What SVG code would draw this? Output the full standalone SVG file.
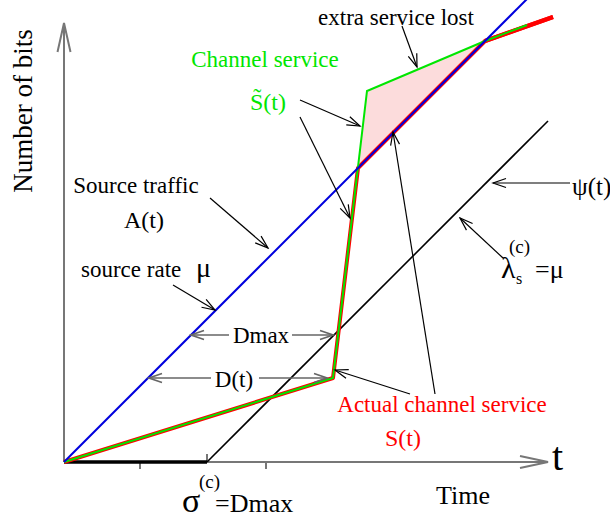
<svg xmlns="http://www.w3.org/2000/svg" width="610" height="522" viewBox="0 0 610 522">
<style>
text{font-family:"Liberation Serif","Times New Roman",serif;fill:#000}
.g{fill:#00e600}
.r{fill:#ff0000}
.ax{stroke:#777;stroke-width:2;fill:none}
.ar{stroke:#000;stroke-width:1.2;fill:none}
.gy{stroke:#666;stroke-width:1.6;fill:none}
</style>
<defs>
<marker id="a" viewBox="-14 -6 16 12" refX="0" refY="0" markerWidth="16" markerHeight="12" orient="auto" markerUnits="userSpaceOnUse"><path d="M-13,-4.5 L0,0 L-13,4.5" fill="none" stroke="#000" stroke-width="1.2"/></marker>
<marker id="gA" viewBox="-14 -6 16 12" refX="0" refY="0" markerWidth="16" markerHeight="12" orient="auto-start-reverse" markerUnits="userSpaceOnUse"><path d="M-13,-4.5 L0,0 L-13,4.5" fill="none" stroke="#666" stroke-width="1.6"/></marker>
</defs>
<g id="axes">
<line class="ax" x1="64" y1="462" x2="64" y2="24"/>
<polyline class="ax" points="57.5,52 64,23 70.5,52"/>
<line class="ax" x1="64" y1="462" x2="547" y2="462"/>
<polyline class="ax" points="520,456 548,462 520,468"/>
<line class="ax" x1="140" y1="462" x2="140" y2="469"/>
<line class="ax" x1="207" y1="454" x2="207" y2="462"/>
<line class="ax" x1="266" y1="462" x2="266" y2="469"/>
<line x1="64" y1="462" x2="207" y2="462" stroke="#000" stroke-width="3.5"/>
</g>
<g id="lost-area"><polygon points="358,168 367,91 485,41" fill="#fcdcdc"/></g>
<g id="curves">
<line x1="207" y1="462" x2="548" y2="121" stroke="#000" stroke-width="1.6"/>
<polyline points="64,462 333,378 358,168 485,41 553,17" fill="none" stroke="#ff0000" stroke-width="4" stroke-linejoin="round"/>
<line x1="485" y1="41" x2="553" y2="17" stroke="#ff0000" stroke-width="4.5"/>
<polyline points="64,462 333,378 367,91 485,41 527,25" fill="none" stroke="#00e600" stroke-width="2"/>
<line x1="64" y1="462" x2="527" y2="-1" stroke="#0000dd" stroke-width="2"/>
</g>
<g id="connectors">
<line class="ar" x1="402" y1="26" x2="417" y2="67" marker-end="url(#a)"/>
<line class="ar" x1="300" y1="100" x2="360" y2="126" marker-end="url(#a)"/>
<line class="ar" x1="300" y1="117" x2="350" y2="218" marker-end="url(#a)"/>
<line class="ar" x1="435" y1="394" x2="393" y2="132" marker-end="url(#a)"/>
<line class="ar" x1="410" y1="394" x2="335" y2="370" marker-end="url(#a)"/>
<line class="ar" x1="570" y1="183" x2="493" y2="183" marker-end="url(#a)"/>
<line class="ar" x1="503" y1="258" x2="460" y2="218" marker-end="url(#a)"/>
<line class="ar" x1="210" y1="198" x2="268" y2="248" marker-end="url(#a)"/>
<line class="ar" x1="173" y1="285" x2="215" y2="310" marker-end="url(#a)"/>
<line class="gy" x1="229" y1="335" x2="191" y2="335" marker-end="url(#gA)"/>
<line class="gy" x1="292" y1="335" x2="333" y2="335" marker-end="url(#gA)"/>
<line class="gy" x1="211" y1="378" x2="149" y2="378" marker-end="url(#gA)"/>
<line class="gy" x1="259" y1="378" x2="327" y2="378" marker-end="url(#gA)"/>
</g>
<g id="labels">
<text x="32" y="111" font-size="27" text-anchor="middle" transform="rotate(-90 32 111)">Number of bits</text>
<text x="396" y="25" font-size="23" text-anchor="middle">extra service lost</text>
<text x="265" y="67" font-size="23" text-anchor="middle" class="g">Channel service</text>
<text x="268" y="110" font-size="24" text-anchor="middle" class="g">S&#x303;(t)</text>
<text x="136" y="193" font-size="23" text-anchor="middle">Source traffic</text>
<text x="144" y="228" font-size="24" text-anchor="middle">A(t)</text>
<text x="81" y="277" font-size="23">source rate</text>
<text x="196" y="277" font-size="28">μ</text>
<text x="572" y="195" font-size="25">ψ(t)</text>
<text x="501" y="278" font-size="30">λ</text>
<text x="516" y="284" font-size="16">s</text>
<text x="509" y="253" font-size="19">(c)</text>
<text x="535" y="278" font-size="26">=μ</text>
<text x="261" y="343" font-size="23" text-anchor="middle">Dmax</text>
<text x="234" y="387" font-size="23" text-anchor="middle">D(t)</text>
<text x="442" y="412" font-size="23" text-anchor="middle" class="r">Actual channel service</text>
<text x="403" y="446" font-size="24" text-anchor="middle" class="r">S(t)</text>
<text x="552" y="470" font-size="40">t</text>
<text x="463" y="504" font-size="26" text-anchor="middle">Time</text>
<text x="182" y="512" font-size="34">σ</text>
<text x="199" y="488" font-size="19">(c)</text>
<text x="215" y="512" font-size="26">=Dmax</text>
</g>
</svg>
